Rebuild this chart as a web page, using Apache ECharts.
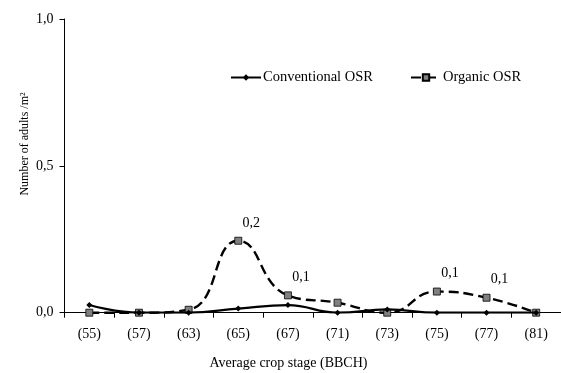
<!DOCTYPE html>
<html><head><meta charset="utf-8">
<script src="https://cdn.jsdelivr.net/npm/echarts@6/dist/echarts.min.js"></script>
<style>html,body{margin:0;padding:0;background:#fff}#c{width:561px;height:373px}</style>
</head><body><div id="c"></div>
<script>
const categories = ['(55)','(57)','(63)','(65)','(67)','(71)','(73)','(75)','(77)','(81)'];
const conventional = [0.026, 0, 0, 0.014, 0.026, 0, 0.011, 0, 0, 0];
const organic = [0, 0, 0.01, 0.245, 0.059, 0.034, 0, 0.072, 0.051, 0];

const font = '"Liberation Serif", "Times New Roman", serif';
const fmt = v => v.toFixed(1).replace('.', ',');
const chart = echarts.init(document.getElementById('c'));
chart.setOption({
  animation: false,
  backgroundColor: '#fff',
  textStyle: { fontFamily: font },
  grid: { left: 64.5, top: 19, width: 508, height: 293.7, containLabel: false },
  legend: [
    { data: ['Conventional OSR'], left: 225, top: 65, itemWidth: 30, itemHeight: 8, itemGap: 3,
      textStyle: { fontFamily: font, fontSize: 14.5, color: '#000', padding: [0, 0, 0, -3] } },
    { data: ['Organic OSR'], left: 405, top: 65, itemWidth: 30, itemHeight: 8, itemGap: 3,
      textStyle: { fontFamily: font, fontSize: 14.5, color: '#000', padding: [0, 0, 0, -3] } }
  ],
  graphic: [
    { type: 'text', x: 288.5, y: 363,
      style: { text: 'Average crop stage (BBCH)', font: '14px ' + font, fill: '#000',
        align: 'center', verticalAlign: 'middle' } },
    { type: 'text', x: 25, y: 144, rotation: Math.PI / 2,
      style: { text: 'Number of adults /m²', font: '12px ' + font, fill: '#000',
        align: 'center', verticalAlign: 'middle' } }
  ],
  xAxis: {
    type: 'category', data: categories, boundaryGap: true,
    axisLine: { lineStyle: { color: '#000', width: 1 } },
    axisTick: { show: true, length: 5, lineStyle: { color: '#000' } },
    axisLabel: { color: '#000', fontFamily: font, fontSize: 14, margin: 15 }
  },
  yAxis: {
    type: 'value', min: 0, max: 1, interval: 0.5,
    splitLine: { show: false },
    axisLine: { show: true, lineStyle: { color: '#000', width: 1 } },
    axisTick: { show: true, length: 5, lineStyle: { color: '#000' } },
    axisLabel: { color: '#000', fontFamily: font, fontSize: 14, margin: 11, formatter: v => fmt(v) }
  },
  series: [
    { name: 'Conventional OSR', type: 'line', data: conventional, smooth: 0.45,
      symbol: 'diamond', symbolSize: 6,
      itemStyle: { color: '#000' }, lineStyle: { color: '#000', width: 2.2 }, z: 3 },
    { name: 'Organic OSR', type: 'line', data: organic, smooth: 0.5,
      symbol: 'rect', symbolSize: 7,
      itemStyle: { color: '#808080', borderColor: '#000', borderWidth: 0.8 },
      lineStyle: { color: '#000', width: 2.4, type: [10, 5] },
      label: { show: true, position: 'top', distance: 5, offset: [13, -2],
        color: '#000', fontFamily: font, fontSize: 14,
        formatter: p => p.value >= 0.05 ? fmt(p.value) : '' }, z: 2 }
  ]
});
</script></body></html>
